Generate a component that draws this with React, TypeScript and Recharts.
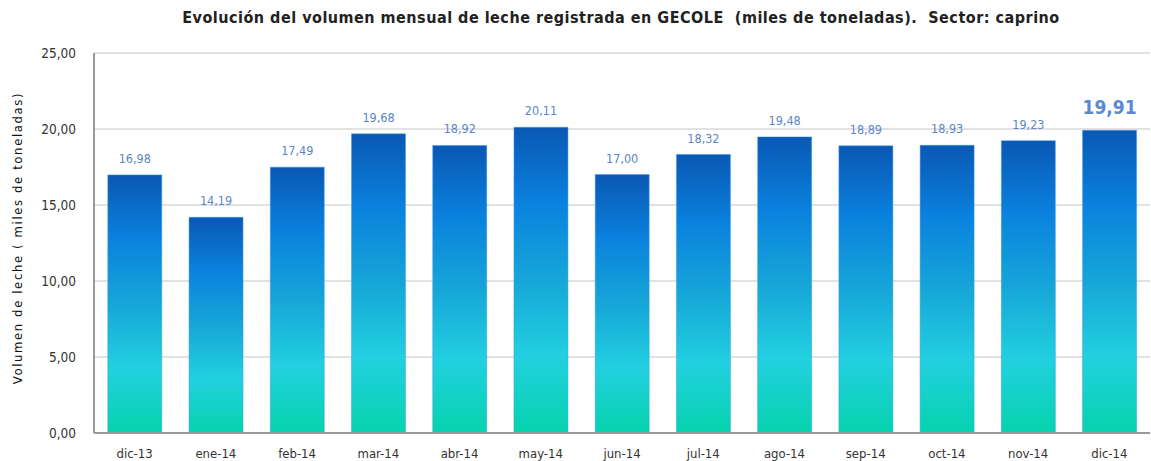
import React from 'react';
import { BarChart, Bar, XAxis, YAxis, CartesianGrid, LabelList } from 'recharts';

const months = ['dic-13', 'ene-14', 'feb-14', 'mar-14', 'abr-14', 'may-14', 'jun-14', 'jul-14', 'ago-14', 'sep-14', 'oct-14', 'nov-14', 'dic-14'];
const volumes = [16.98, 14.19, 17.49, 19.68, 18.92, 20.11, 17.0, 18.32, 19.48, 18.89, 18.93, 19.23, 19.91];
const yTicks = [0, 5, 10, 15, 20, 25];

const data = months.map((m, i) => ({ month: m, value: volumes[i] }));

const fmt = (v: number) => v.toFixed(2).replace('.', ',');
const FONT = '"Liberation Sans Narrow", "DejaVu Sans Condensed", "Liberation Sans", sans-serif';

const renderLabel = (props: any) => {
  const { x, y, width, value, index } = props;
  const last = index === volumes.length - 1;
  return (
    <text
      x={x + width / 2}
      y={last ? y - 16 : y - 12}
      textAnchor="middle"
      fontFamily={FONT}
      fontSize={last ? 19 : 12.5}
      fontWeight={last ? 'bold' : 'normal'}
      fill={last ? '#5b8ad0' : '#5b86c8'}
    >
      {fmt(value)}
    </text>
  );
};

export default function App() {
  return (
    <div style={{ position: 'absolute', left: 0, top: 0, width: 1151, height: 461, background: '#fff' }}>
      <div
        style={{
          position: 'absolute',
          top: 8,
          left: 0,
          width: 1242,
          textAlign: 'center',
          fontFamily: FONT,
          fontWeight: 'bold',
          fontSize: 16,
          letterSpacing: 0.5,
          color: '#222',
          whiteSpace: 'pre',
        }}
      >
        {'Evolución del volumen mensual de leche registrada en GECOLE  (miles de toneladas).  Sector: caprino'}
      </div>
      <div
        style={{
          position: 'absolute',
          left: 17,
          top: 238,
          transform: 'translate(-50%, -50%) rotate(-90deg)',
          fontFamily: FONT,
          fontSize: 13,
          letterSpacing: 1.6,
          color: '#111',
          whiteSpace: 'nowrap',
        }}
      >
        Volumen de leche ( miles de toneladas)
      </div>
      <BarChart
        width={1151}
        height={461}
        data={data}
        margin={{ top: 53, right: 1, bottom: 0, left: 0 }}
        barCategoryGap="17%"
        style={{ position: 'absolute', left: 0, top: 0 }}
      >
        <defs>
          <linearGradient id="barGrad" x1="0" y1="0" x2="0" y2="1">
            <stop offset="0%" stopColor="#0a58b4" />
            <stop offset="25%" stopColor="#0a82de" />
            <stop offset="50%" stopColor="#16a6d8" />
            <stop offset="75%" stopColor="#22d0e0" />
            <stop offset="100%" stopColor="#06d3ad" />
          </linearGradient>
        </defs>
        <CartesianGrid vertical={false} stroke="#d9d9d9" strokeWidth={1.5} />
        <XAxis
          dataKey="month"
          height={28}
          tickLine={false}
          axisLine={{ stroke: '#999', strokeWidth: 2 }}
          tick={{ fontFamily: FONT, fontSize: 13, fill: '#333' }}
          tickMargin={10}
          interval={0}
        />
        <YAxis
          domain={[0, 25]}
          ticks={yTicks}
          tickFormatter={fmt}
          width={94}
          tickLine={false}
          axisLine={{ stroke: '#999', strokeWidth: 2 }}
          tick={{ fontFamily: FONT, fontSize: 13.5, fill: '#333' }}
          tickMargin={12}
        />
        <Bar dataKey="value" fill="url(#barGrad)" stroke="#3b9be8" strokeWidth={0.5} isAnimationActive={false}>
          <LabelList dataKey="value" content={renderLabel} />
        </Bar>
      </BarChart>
    </div>
  );
}
